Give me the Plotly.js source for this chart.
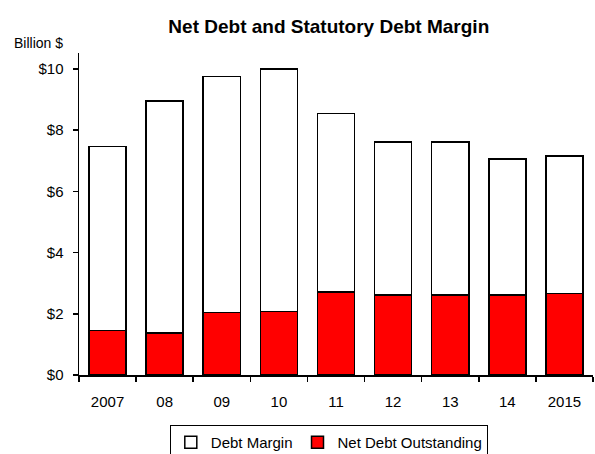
<!DOCTYPE html>
<html>
<head>
<meta charset="utf-8">
<script src="https://cdn.plot.ly/plotly-3.0.1.min.js"></script>
<style>body{margin:0;padding:0;background:#fff}#chart{width:595px;height:454px}</style>
</head>
<body>
<div id="chart"></div>
<script>
var categories = ["2007", "08", "09", "10", "11", "12", "13", "14", "2015"];
var netDebtOutstanding = [1.46, 1.38, 2.04, 2.08, 2.71, 2.61, 2.61, 2.61, 2.66];
var debtMargin = [6.00, 7.58, 7.71, 7.92, 5.83, 5.01, 5.01, 4.45, 4.50];
var yTickVals = [0, 2, 4, 6, 8, 10];
var yTickText = ["$0", "$2", "$4", "$6", "$8", "$10"];

var font = "Liberation Sans, Arial, sans-serif";
var traces = [
  {type: "bar", name: "Net Debt Outstanding", x: categories, y: netDebtOutstanding,
   marker: {color: "#ff0000", line: {color: "#000", width: 1.5}}},
  {type: "bar", name: "Debt Margin", x: categories, y: debtMargin,
   marker: {color: "#ffffff", line: {color: "#000", width: 1.5}}}
];
var layout = {
  width: 595, height: 454,
  margin: {l: 79, r: 2, t: 53, b: 79},
  barmode: "stack", bargap: 0.35,
  paper_bgcolor: "#fff", plot_bgcolor: "#fff",
  font: {family: font, size: 15, color: "#000"},
  title: {text: "<b>Net Debt and Statutory Debt Margin</b>", font: {family: font, size: 19, color: "#000"},
          x: 0.486, xref: "paper", xanchor: "center", y: 14, yref: "container", yanchor: "middle"},
  xaxis: {type: "category", showline: true, linecolor: "#000", linewidth: 1.5,
          ticks: "outside", tickson: "boundaries", ticklen: 5, tickcolor: "#000", tickwidth: 1.5,
          ticklabelstandoff: 12, automargin: false,
          showgrid: false, zeroline: false, tickfont: {family: font, size: 15}},
  yaxis: {range: [0, 10.52], showline: true, linecolor: "#000", linewidth: 1.5,
          ticks: "outside", ticklen: 5, tickcolor: "#000", tickwidth: 1.5,
          ticklabelstandoff: 6, automargin: false,
          tickvals: yTickVals, ticktext: yTickText, showgrid: false, zeroline: false,
          tickfont: {family: font, size: 15}},
  showlegend: true,
  legend: {orientation: "h", x: 0.486, xanchor: "center", yref: "container", y: 0.064, yanchor: "top",
           traceorder: "reversed", bordercolor: "#000", borderwidth: 1,
           itemwidth: 30, font: {family: font, size: 15}, bgcolor: "#fff"},
  annotations: [{text: "Billion $", xref: "paper", yref: "paper", x: -0.13, y: 1.03,
                 xanchor: "left", yanchor: "middle", showarrow: false, font: {family: font, size: 14}}]
};
Plotly.newPlot("chart", traces, layout, {displayModeBar: false, staticPlot: true});
</script>
</body>
</html>
